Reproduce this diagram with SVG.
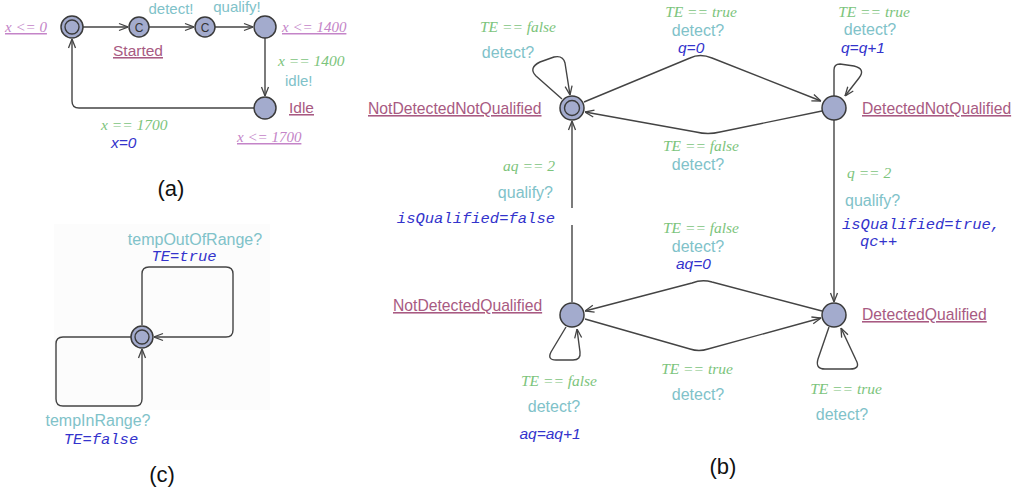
<svg xmlns="http://www.w3.org/2000/svg" width="1023" height="492" viewBox="0 0 1023 492">
<style>
.edge{fill:none;stroke:#444;stroke-width:1.4;stroke-linejoin:round}
.node{fill:#a3abcd;stroke:#3a3a3a;stroke-width:1.5}
.inner{fill:none;stroke:#3a3a3a;stroke-width:1.4}
.name{font-family:"Liberation Sans",Arial,sans-serif;font-size:15.7px;fill:#a85a82;text-decoration:underline}
.inv{font-family:"Liberation Serif","Times New Roman",serif;font-style:italic;font-size:15px;fill:#c484c8;text-decoration:underline}
.guard{font-family:"Liberation Serif","Times New Roman",serif;font-style:italic;font-size:15.5px;fill:#7cc47c}
.sync{font-family:"Liberation Sans",Arial,sans-serif;font-size:16px;fill:#80c2c9}
.upd{font-family:"Liberation Sans",Arial,sans-serif;font-style:italic;font-size:15.5px;fill:#3333cc}
.mono{font-family:"Liberation Mono","Courier New",monospace;font-style:italic;font-size:15.5px;fill:#3333cc}
.cap{font-family:"Liberation Sans",Arial,sans-serif;font-size:22px;fill:#111;text-anchor:middle}
.c{font-family:"Liberation Sans",Arial,sans-serif;font-size:12px;fill:#333;text-anchor:middle}
.mid{text-anchor:middle}
.end{text-anchor:end}
</style>
<defs>
<marker id="arr" viewBox="0 0 10 10" refX="10" refY="5" markerWidth="10" markerHeight="10" markerUnits="userSpaceOnUse" orient="auto">
<path d="M1,1.5 L10,5 L1,8.5" fill="none" stroke="#444" stroke-width="1.3"/>
</marker>
</defs>
<rect width="1023" height="492" fill="#fff"/>
<rect x="54" y="224" width="216" height="186" fill="#fcfcfc"/>

<g id="connectors">
<!-- (a) -->
<path class="edge" d="M83,27 L128,27" marker-end="url(#arr)"/>
<path class="edge" d="M149,27 L194,27" marker-end="url(#arr)"/>
<path class="edge" d="M215,27 L253,27" marker-end="url(#arr)"/>
<path class="edge" d="M265,38 L265,96" marker-end="url(#arr)"/>
<path class="edge" d="M254,108 L79,108 Q72,108 72,101 L72,39" marker-end="url(#arr)"/>
<!-- (c) -->
<path class="edge" d="M142,325 L142,274 Q142,267 149,267 L226,267 Q233,267 233,274 L233,330 Q233,337 226,337 L154,337" marker-end="url(#arr)"/>
<path class="edge" d="M131,337 L63,337 Q56,337 56,344 L56,399 Q56,406 63,406 L135,406 Q142,406 142,399 L142,349" marker-end="url(#arr)"/>
<!-- (b) -->
<path class="edge" d="M562,99 L536,76 Q528,68 540,62 L554,57 Q563,55 565,63 L570,95" marker-end="url(#arr)"/>
<path class="edge" d="M584,102 L690,58 Q700,53 712,58 L821,101" marker-end="url(#arr)"/>
<path class="edge" d="M822,111 L720,132 Q708,135 696,132 L585,112" marker-end="url(#arr)"/>
<path class="edge" d="M834,96 L834,70 Q834,64 840,64 L854,66 Q866,69 859,78 L845,96" marker-end="url(#arr)"/>
<path class="edge" d="M834,120 L834,302" marker-end="url(#arr)"/>
<path class="edge" d="M572,302 L572,225"/>
<path class="edge" d="M572,208 L572,121" marker-end="url(#arr)"/>
<path class="edge" d="M822,311 L712,282 Q702,279 692,283 L585,311" marker-end="url(#arr)"/>
<path class="edge" d="M585,319 L690,349 Q699,352 708,349 L821,318" marker-end="url(#arr)"/>
<path class="edge" d="M566,327 L551,352 Q547,360 556,360 L573,360 Q581,360 580,352 L577,329" marker-end="url(#arr)"/>
<path class="edge" d="M829,327 L818,359 Q815,369 825,369 L850,369 Q861,369 856,360 L841,328" marker-end="url(#arr)"/>
</g>

<!-- (a) nodes -->
<g id="a-init"><circle class="node" cx="72" cy="27" r="11"/><circle class="inner" cx="72" cy="27" r="7"/></g>
<g id="a-started"><circle class="node" cx="139" cy="27" r="10"/><text class="c" x="139" y="31.5">C</text></g>
<g id="a-c2"><circle class="node" cx="205" cy="27" r="10"/><text class="c" x="205" y="31.5">C</text></g>
<g id="a-wait"><circle class="node" cx="265" cy="27" r="11"/></g>
<g id="a-idle"><circle class="node" cx="265" cy="108" r="11"/></g>
<g id="a-labels">
<text class="inv" x="5" y="32">x &lt;= 0</text>
<text class="name" x="138" y="56" text-anchor="middle" style="font-size:15.5px">Started</text>
<text class="sync mid" x="171" y="14" style="font-size:15px">detect!</text>
<text class="sync mid" x="237" y="12" style="font-size:15px">qualify!</text>
<text class="inv" x="282" y="32">x &lt;= 1400</text>
<text class="guard" x="278" y="66">x == 1400</text>
<text class="sync" x="285" y="86" style="font-size:15px">idle!</text>
<text class="name" x="289" y="113" style="font-size:15.5px">Idle</text>
<text class="inv" x="237" y="142">x &lt;= 1700</text>
<text class="guard" x="101" y="130">x == 1700</text>
<text class="upd" x="111" y="148">x=0</text>
<text class="cap" x="171" y="196">(a)</text>
</g>

<!-- (c) -->
<g id="c-node"><circle class="node" cx="142" cy="337" r="11"/><circle class="inner" cx="142" cy="337" r="7"/></g>
<g id="c-labels">
<text class="sync mid" x="195" y="245">tempOutOfRange?</text>
<text class="mono mid" x="184" y="261">TE=true</text>
<text class="sync mid" x="98" y="426">tempInRange?</text>
<text class="mono mid" x="101" y="444">TE=false</text>
<text class="cap" x="162" y="482">(c)</text>
</g>

<!-- (b) nodes -->
<g id="NotDetectedNotQualified"><circle class="node" cx="572" cy="108" r="12"/><circle class="inner" cx="572" cy="108" r="7.5"/><text class="name" x="368" y="114">NotDetectedNotQualified</text></g>
<g id="DetectedNotQualified"><circle class="node" cx="834" cy="108" r="12"/><text class="name" x="862" y="114">DetectedNotQualified</text></g>
<g id="NotDetectedQualified"><circle class="node" cx="572" cy="315" r="12"/><text class="name" x="393" y="311">NotDetectedQualified</text></g>
<g id="DetectedQualified"><circle class="node" cx="834" cy="315" r="12"/><text class="name" x="862" y="320">DetectedQualified</text></g>

<g id="b-labels">
<text class="guard mid" x="518" y="32">TE == false</text>
<text class="sync mid" x="508" y="58">detect?</text>
<text class="guard mid" x="701" y="17">TE == true</text>
<text class="sync mid" x="698" y="36">detect?</text>
<text class="upd" x="678" y="53">q=0</text>
<text class="guard mid" x="874" y="17">TE == true</text>
<text class="sync mid" x="870" y="35">detect?</text>
<text class="upd" x="841" y="53">q=q+1</text>
<text class="guard mid" x="701" y="151">TE == false</text>
<text class="sync mid" x="698" y="170">detect?</text>
<text class="guard end" x="555" y="171">aq == 2</text>
<text class="sync end" x="553" y="198">qualify?</text>
<text class="mono end" x="555" y="223">isQualified=false</text>
<text class="guard mid" x="701" y="233">TE == false</text>
<text class="sync mid" x="698" y="252">detect?</text>
<text class="upd" x="676" y="269">aq=0</text>
<text class="guard" x="847" y="178">q == 2</text>
<text class="sync" x="845" y="206">qualify?</text>
<text class="mono" x="842" y="229">isQualified=true,</text>
<text class="mono" x="860" y="246">qc++</text>
<text class="guard mid" x="697" y="374">TE == true</text>
<text class="sync mid" x="698" y="400">detect?</text>
<text class="guard mid" x="559" y="386">TE == false</text>
<text class="sync mid" x="554" y="412">detect?</text>
<text class="upd mid" x="550" y="439">aq=aq+1</text>
<text class="guard mid" x="846" y="394">TE == true</text>
<text class="sync mid" x="842" y="420">detect?</text>
<text class="cap" x="723" y="474">(b)</text>
</g>
</svg>
